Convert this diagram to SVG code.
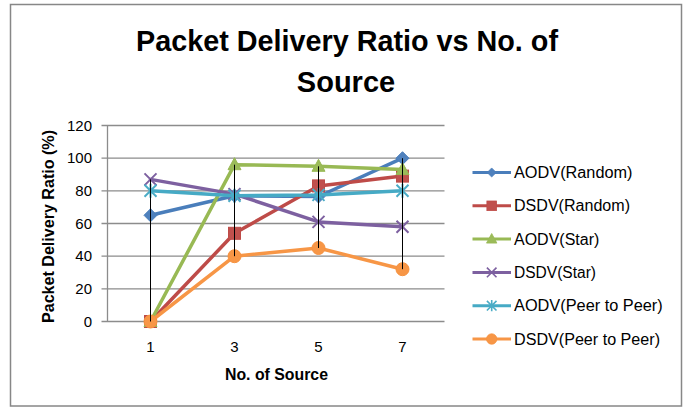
<svg xmlns="http://www.w3.org/2000/svg" xmlns:xlink="http://www.w3.org/1999/xlink" width="686" height="409" viewBox="0 0 686 409">
<style>
text{font-family:"Liberation Sans",Arial,sans-serif;fill:#000}
.title{font-size:29px;font-weight:bold;text-anchor:middle}
.axt{font-size:16px;font-weight:bold;text-anchor:middle}
.tk{font-size:15px;text-anchor:end}
.tx{font-size:15px;text-anchor:middle}
.lg{font-size:16px}
.grid{stroke:#8c8c8c;stroke-width:1.3;fill:none}
.hl{stroke:#000;stroke-width:1;fill:none}
.s{fill:none;stroke-width:3.5;stroke-linejoin:round;stroke-linecap:round}
.ls{fill:none;stroke-width:3}
</style>
<defs>
<path id="mDia" d="M0,-6.5L6.5,0L0,6.5L-6.5,0Z" fill="#4F81BD" stroke="#4A7EBB" stroke-width="1"/>
<rect id="mSq" x="-6" y="-6" width="12" height="12" fill="#C0504D" stroke="#BE4B48" stroke-width="1"/>
<path id="mTri" d="M0,-7L6.5,5L-6.5,5Z" fill="#9BBB59" stroke="#98B954" stroke-width="1"/>
<path id="mX" d="M-6,-6L6,6M-6,6L6,-6" stroke="#7D60A0" stroke-width="2" fill="none"/>
<path id="mAst" d="M-6,-6L6,6M-6,6L6,-6M0,-7L0,7" stroke="#4BACC6" stroke-width="2" fill="none"/>
<circle id="mCir" r="6.5" fill="#F79646" stroke="#F69240" stroke-width="1"/>
</defs>
<rect x="0" y="0" width="686" height="409" fill="#fff"/>
<rect x="10.5" y="4.5" width="671" height="401.5" fill="#fff" stroke="#878787" stroke-width="1.5"/>

<g id="title">
<text class="title" x="347" y="50.7" textLength="422" lengthAdjust="spacingAndGlyphs">Packet Delivery Ratio vs No. of</text>
<text class="title" x="346" y="91.5">Source</text>
</g>

<g id="axes">
<path class="grid" d="M108,125.5H444.5M108,158.2H444.5M108,190.8H444.5M108,223.5H444.5M108,256.2H444.5M108,288.8H444.5M101.5,321.5H444.5M107.5,125.5V321.5M101.5,125.5H108M101.5,158.2H108M101.5,190.8H108M101.5,223.5H108M101.5,256.2H108M101.5,288.8H108"/>
<text class="tk" x="92" y="130.5">120</text>
<text class="tk" x="92" y="163.2">100</text>
<text class="tk" x="92" y="195.8">80</text>
<text class="tk" x="92" y="228.5">60</text>
<text class="tk" x="92" y="261.2">40</text>
<text class="tk" x="92" y="293.8">20</text>
<text class="tk" x="92" y="326.5">0</text>
<text class="tx" x="150.5" y="352">1</text>
<text class="tx" x="234.5" y="352">3</text>
<text class="tx" x="318.5" y="352">5</text>
<text class="tx" x="402.5" y="352">7</text>
<text class="axt" x="276.5" y="380" textLength="103" lengthAdjust="spacingAndGlyphs">No. of Source</text>
<text class="axt" transform="translate(53.5,226.5) rotate(-90)" textLength="193" lengthAdjust="spacingAndGlyphs">Packet Delivery Ratio (%)</text>
</g>

<g id="series-aodv-random">
<polyline class="s" stroke="#4A7EBB" points="150.5,215.3 234.5,195.7 318.5,196.5 402.5,158.2"/>
<use xlink:href="#mDia" x="150.5" y="215.3"/><use xlink:href="#mDia" x="234.5" y="195.7"/><use xlink:href="#mDia" x="318.5" y="196.5"/><use xlink:href="#mDia" x="402.5" y="158.2"/>
</g>
<g id="series-dsdv-random">
<polyline class="s" stroke="#BE4B48" points="150.5,321.5 234.5,233.3 318.5,185.9 402.5,176.1"/>
<use xlink:href="#mSq" x="150.5" y="321.5"/><use xlink:href="#mSq" x="234.5" y="233.3"/><use xlink:href="#mSq" x="318.5" y="185.9"/><use xlink:href="#mSq" x="402.5" y="176.1"/>
</g>
<g id="series-aodv-star">
<polyline class="s" stroke="#98B954" points="150.5,321.5 234.5,164.7 318.5,166.3 402.5,169.6"/>
<use xlink:href="#mTri" x="150.5" y="321.5"/><use xlink:href="#mTri" x="234.5" y="164.7"/><use xlink:href="#mTri" x="318.5" y="166.3"/><use xlink:href="#mTri" x="402.5" y="169.6"/>
</g>
<g id="series-dsdv-star">
<polyline class="s" stroke="#7D60A0" points="150.5,179.4 234.5,194.1 318.5,221.9 402.5,226.8"/>
<use xlink:href="#mX" x="150.5" y="179.4"/><use xlink:href="#mX" x="234.5" y="194.1"/><use xlink:href="#mX" x="318.5" y="221.9"/><use xlink:href="#mX" x="402.5" y="226.8"/>
</g>
<g id="series-aodv-peer">
<polyline class="s" stroke="#46AAC5" points="150.5,190.8 234.5,195.7 318.5,194.9 402.5,190.8"/>
<use xlink:href="#mAst" x="150.5" y="190.8"/><use xlink:href="#mAst" x="234.5" y="195.7"/><use xlink:href="#mAst" x="318.5" y="194.9"/><use xlink:href="#mAst" x="402.5" y="190.8"/>
</g>
<g id="series-dsdv-peer">
<polyline class="s" stroke="#F79646" points="150.5,321.5 234.5,256.2 318.5,248 402.5,269.2"/>
<use xlink:href="#mCir" x="150.5" y="321.5"/><use xlink:href="#mCir" x="234.5" y="256.2"/><use xlink:href="#mCir" x="318.5" y="248"/><use xlink:href="#mCir" x="402.5" y="269.2"/>
</g>

<g id="connectors">
<path class="hl" d="M150.5,179.4V321.5M234.5,164.7V256.2M318.5,166.3V248M402.5,158.2V269.2"/>
</g>

<g id="legend">
<g id="leg-aodv-random"><path class="ls" stroke="#4A7EBB" d="M472.5,172.5H511"/><use xlink:href="#mDia" transform="translate(491.7,172.5) scale(0.7)"/><text class="lg" x="514" y="178" textLength="118.5" lengthAdjust="spacingAndGlyphs">AODV(Random)</text></g>
<g id="leg-dsdv-random"><path class="ls" stroke="#BE4B48" d="M472.5,205.8H511"/><use xlink:href="#mSq" transform="translate(491.7,205.8) scale(0.8)"/><text class="lg" x="514" y="211.3" textLength="116" lengthAdjust="spacingAndGlyphs">DSDV(Random)</text></g>
<g id="leg-aodv-star"><path class="ls" stroke="#98B954" d="M472.5,239.1H511"/><use xlink:href="#mTri" transform="translate(491.7,239.1) scale(0.8)"/><text class="lg" x="514" y="244.6" textLength="85.3" lengthAdjust="spacingAndGlyphs">AODV(Star)</text></g>
<g id="leg-dsdv-star"><path class="ls" stroke="#7D60A0" d="M472.5,272.4H511"/><use xlink:href="#mX" transform="translate(491.7,272.4) scale(0.8)"/><text class="lg" x="514" y="277.9" textLength="82" lengthAdjust="spacingAndGlyphs">DSDV(Star)</text></g>
<g id="leg-aodv-peer"><path class="ls" stroke="#46AAC5" d="M472.5,305.7H511"/><use xlink:href="#mAst" transform="translate(491.7,305.7) scale(0.8)"/><text class="lg" x="514" y="311.2" textLength="148.7" lengthAdjust="spacingAndGlyphs">AODV(Peer to Peer)</text></g>
<g id="leg-dsdv-peer"><path class="ls" stroke="#F79646" d="M472.5,339H511"/><use xlink:href="#mCir" transform="translate(491.7,339) scale(0.8)"/><text class="lg" x="514" y="344.5" textLength="146" lengthAdjust="spacingAndGlyphs">DSDV(Peer to Peer)</text></g>
</g>
</svg>
